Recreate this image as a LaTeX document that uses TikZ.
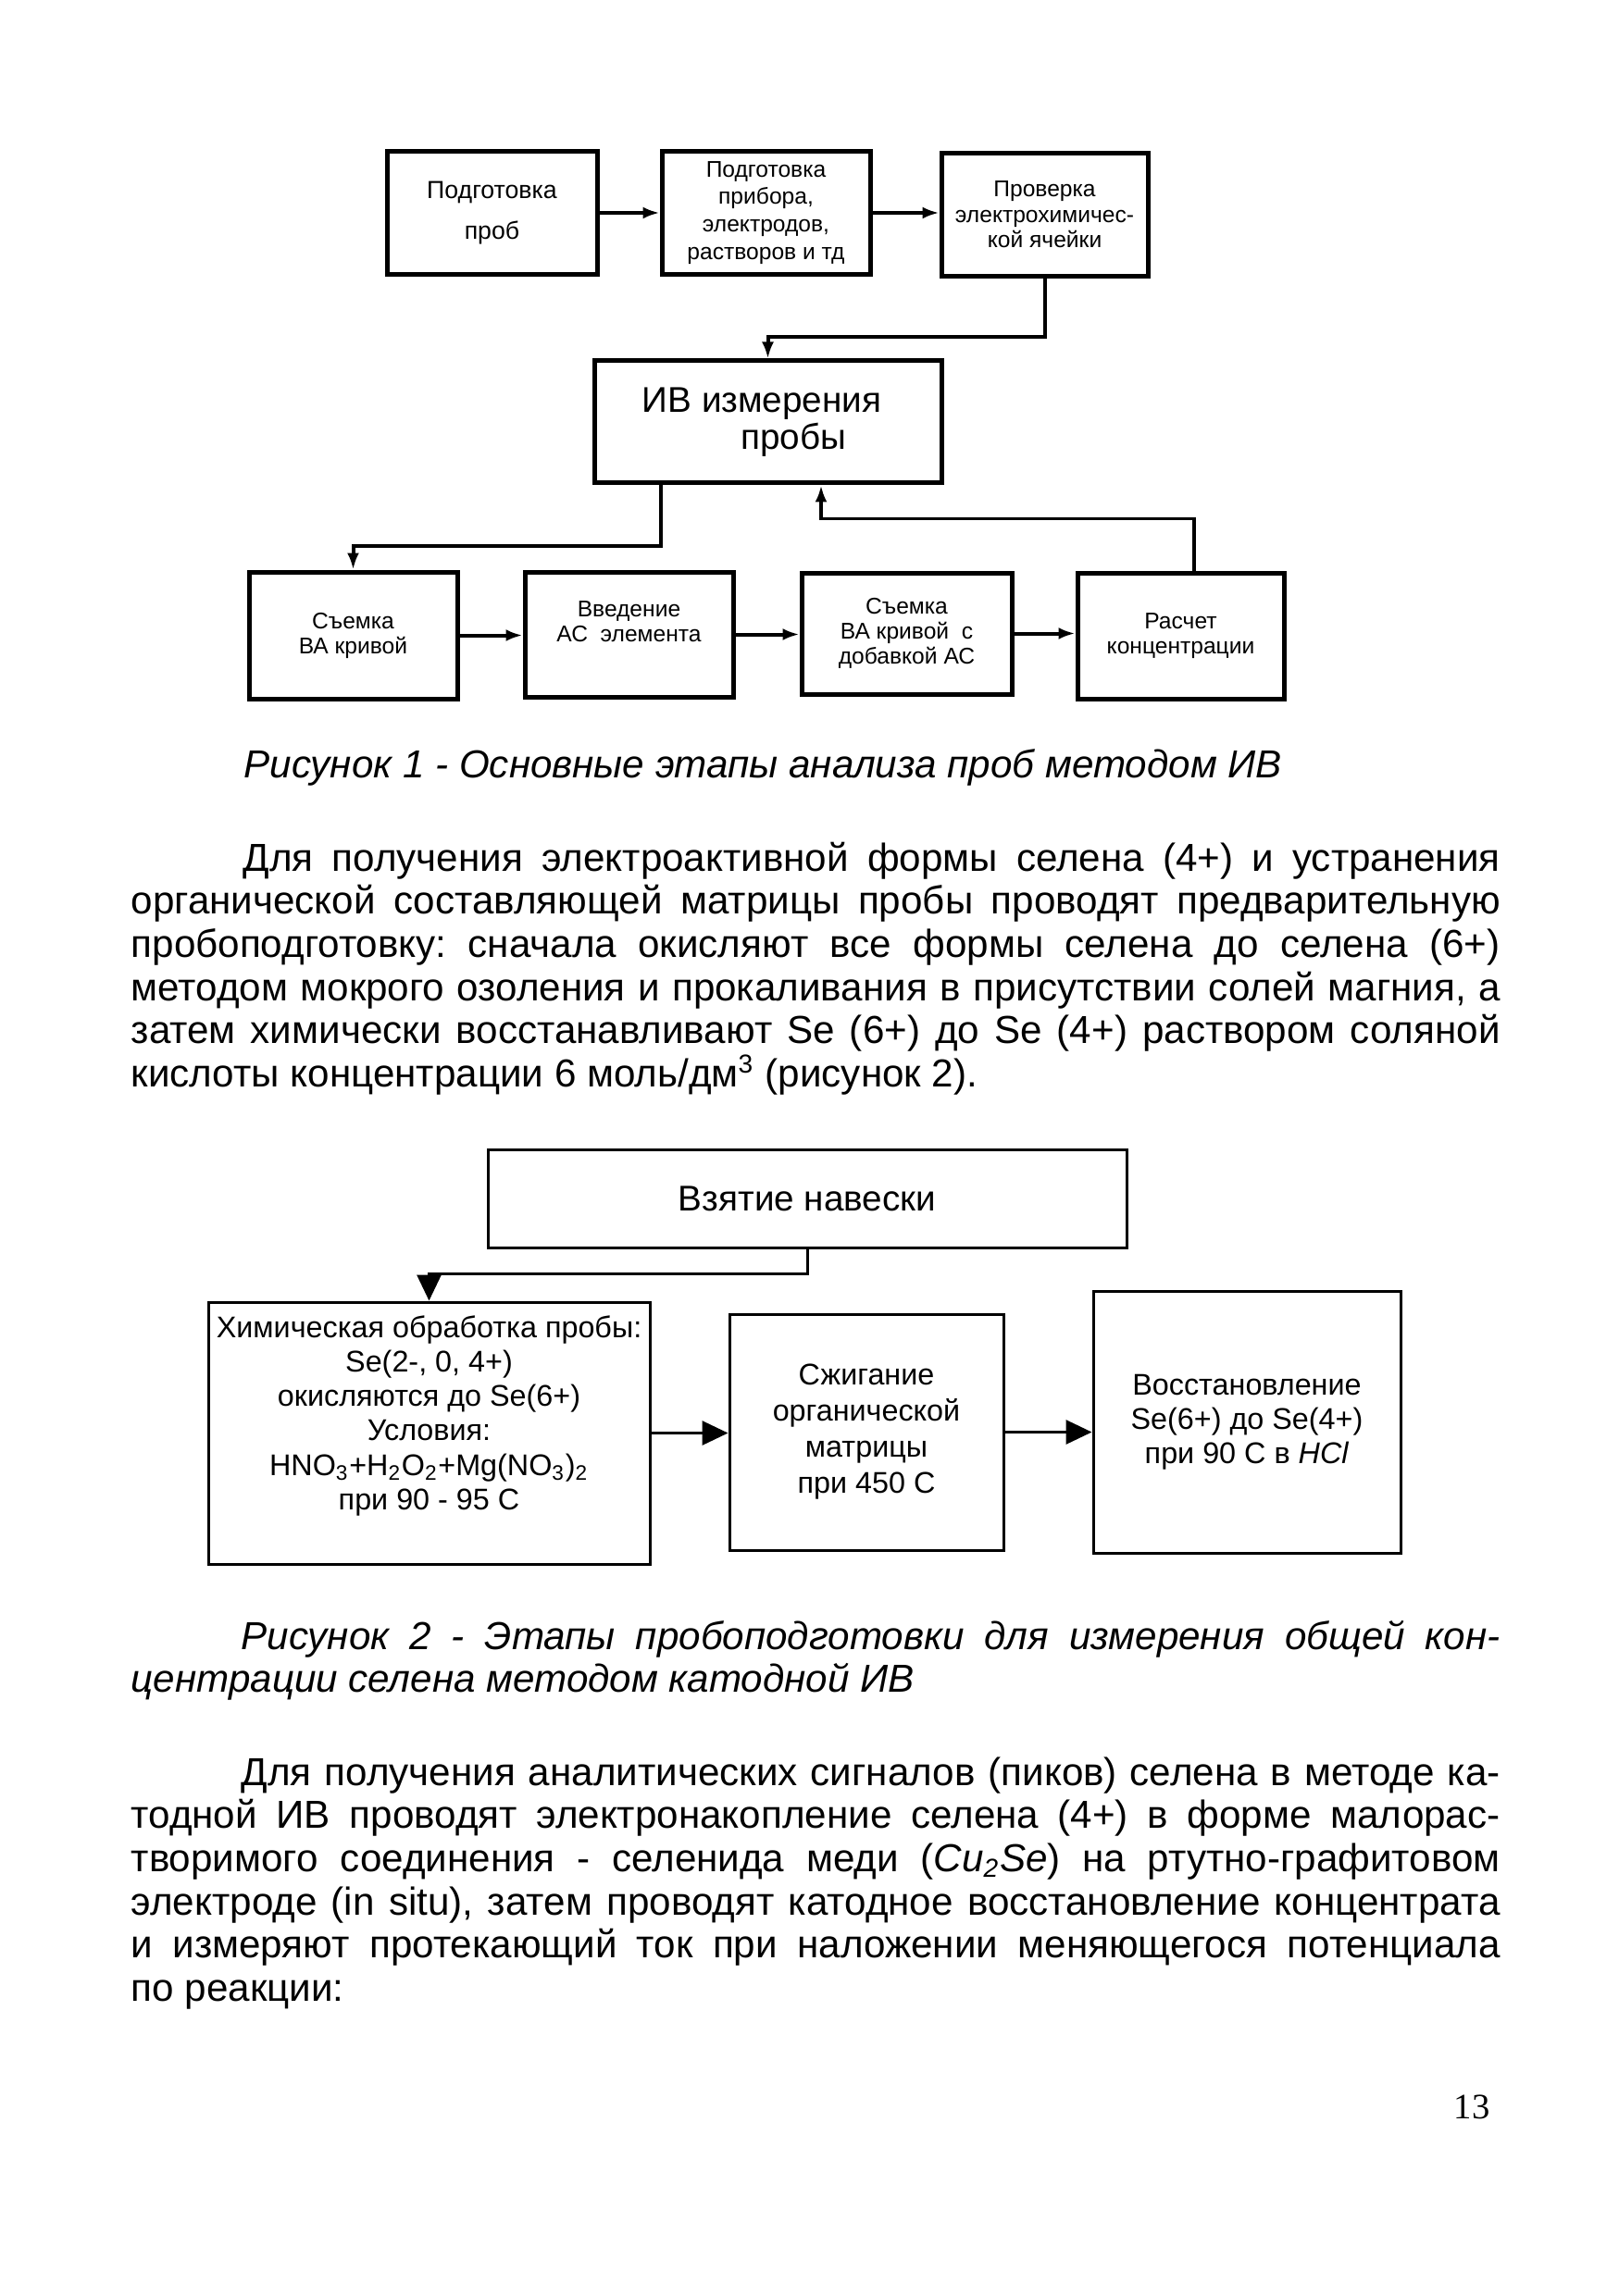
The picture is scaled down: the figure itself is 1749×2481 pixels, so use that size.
\documentclass[tikz,border=0pt]{standalone}
\usepackage{fontspec}
\setmainfont{Liberation Sans}
\newfontfamily\numfont{Liberation Serif}
\usetikzlibrary{arrows.meta}
\newcommand\nohyph{\hyphenpenalty=10000 \exhyphenpenalty=10000 \frenchspacing}

\begin{document}
\begin{tikzpicture}[x=0.1mm, y=-0.1mm,
        stage/.style={draw, line width=0.5mm, inner sep=0pt, align=center,
            minimum width=22.5mm, minimum height=13.3mm,
            font=\fontsize{7pt}{7.7pt}\selectfont},
        prep/.style={draw, line width=0.3mm, inner sep=0pt, align=center,
            font=\fontsize{9.2pt}{10.6pt}\selectfont},
        flow/.style={line width=0.4mm, -{Latex[length=1.8mm, width=1.3mm]}},
        prepflow/.style={line width=0.3mm, -{Triangle[length=2.8mm, width=2.6mm]}},
        para/.style={anchor=base west, inner sep=0pt, text width=147.9mm,
            align=justify, font=\fontsize{12pt}{13.3pt}\selectfont,
            execute at begin node=\nohyph}]
    \fill[white] (0,0) rectangle (1749,2481);
    \useasboundingbox (0,0) rectangle (1749,2481);

    % Рисунок 1
    \node[stage, minimum width=22.7mm, font=\fontsize{7.6pt}{8.6pt}\selectfont]
        at (531.5, 230) (P_1) {Подготовка\\[1.3mm]проб};
    \node[stage, font=\fontsize{7pt}{8.5pt}\selectfont]
        at (827.5, 230) (P_2) {Подготовка\\прибора,\\электродов,\\растворов и тд};
    \node[stage, minimum width=22.3mm, font=\fontsize{7pt}{7.8pt}\selectfont]
        at (1128.5, 232) (P_3) {Проверка\\электрохимичес-\\кой ячейки};
    \node[stage, minimum width=37.5mm, minimum height=13.2mm,
        font=\fontsize{11pt}{10.2pt}\selectfont]
        at (829.5, 456) (IV) {ИВ измерения\hspace*{1.3mm}\\\hspace*{5.5mm}пробы};
    \node[stage, minimum height=13.7mm] at (381.5, 686.5) (S_1) {Съемка\\ВА кривой};
    \node[stage, minimum height=13.5mm] at (679.5, 685.5) (S_2) {Введение\\АС~~элемента\\\mbox{}};
    \node[stage, minimum width=22.7mm, minimum height=13.1mm]
        at (979.5, 684.5) (S_3) {Съемка\\ВА кривой~~с\\добавкой АС};
    \node[stage, minimum width=22.3mm, minimum height=13.6mm]
        at (1275.5, 687) (S_4) {Расчет\\концентрации};

    \path[flow]
        (P_1) edge (P_1 -| P_2.west)
        (P_2) edge (P_2 -| P_3.west)
        (S_1) edge (S_1 -| S_2.west)
        (S_2) edge (S_2 -| S_3.west)
        (S_3) edge (S_3 -| S_4.west);
    \draw[flow] (P_3.south) -- ++(0,63) -| (IV.north);
    \draw[flow] ([xshift=-11.55mm]IV.south) -- ++(0,66) -| (S_1.north);
    \draw[flow] ([xshift=1.45mm]S_4.north) -- ++(0,-56) -| ([xshift=5.75mm]IV.south);

    \node[anchor=base west, inner sep=0pt, font=\fontsize{12pt}{13.3pt}\selectfont\itshape]
        at (263, 840) (cap_1) {Рисунок 1 - Основные этапы анализа проб методом ИВ};

    % текст
    \node[para] at (141, 941) (text_1) {\hspace*{12.1mm}Для получения электроактивной формы селена (4+) и устранения\linebreak
        органической составляющей матрицы пробы проводят предварительную\linebreak
        пробоподготовку: сначала окисляют все формы селена до селена (6+)\linebreak
        методом мокрого озоления и прокаливания в присутствии солей магния, а\linebreak
        затем химически восстанавливают Se (6+) до Se (4+) раствором соляной\linebreak
        кислоты концентрации 6 моль/дм\textsuperscript{3} (рисунок 2).};

    % Рисунок 2
    \node[prep, minimum width=69mm, minimum height=10.6mm,
        font=\fontsize{11pt}{12.6pt}\selectfont]
        at (872, 1295) (V) {Взятие навески};
    \node[prep, minimum width=47.7mm, minimum height=28.3mm]
        at (463.5, 1548.5) (H) {Химическая обработка пробы:\\Se(2-, 0, 4+)\\окисляются до Se(6+)\\Условия:\\
        HNO\textsubscript{3}+H\textsubscript{2}O\textsubscript{2}+Mg(NO\textsubscript{3})\textsubscript{2}\\при 90 - 95 C\\[0.7mm]\mbox{}};
    \node[prep, minimum width=29.6mm, minimum height=25.5mm,
        font=\fontsize{9.2pt}{11.1pt}\selectfont]
        at (936, 1547.5) (Sz) {Сжигание\\органической\\матрицы\\при 450 C};
    \node[prep, minimum width=33.2mm, minimum height=28.3mm]
        at (1347, 1536.5) (R) {Восстановление\\Se(6+) до Se(4+)\\при 90 C в \textit{HCl}};

    \draw[prepflow] (V.south) -- ++(0,27) -| (H.north);
    \path[prepflow]
        (H) edge (H -| Sz.west)
        (Sz) edge (Sz -| R.west);

    \node[para, font=\fontsize{12pt}{13.3pt}\selectfont\itshape] at (141, 1782) (cap_2)
        {\hspace*{11.9mm}Рисунок 2 - Этапы пробоподготовки для измерения общей кон-\linebreak
        центрации селена методом катодной ИВ};

    \node[para] at (141, 1929) (text_2) {\hspace*{11.9mm}Для получения аналитических сигналов (пиков) селена в методе ка-\linebreak
        тодной ИВ проводят электронакопление селена (4+) в форме малорас-\linebreak
        творимого соединения - селенида меди (\textit{Cu\textsubscript{2}Se}) на ртутно-графитовом\linebreak
        электроде (in situ), затем проводят катодное восстановление концентрата\linebreak
        и измеряют протекающий ток при наложении меняющегося потенциала\linebreak
        по реакции:};

    \node[anchor=base, inner sep=0pt, font=\numfont\fontsize{11pt}{13pt}\selectfont]
        at (1590, 2289) (page) {13};
\end{tikzpicture}
\end{document}
